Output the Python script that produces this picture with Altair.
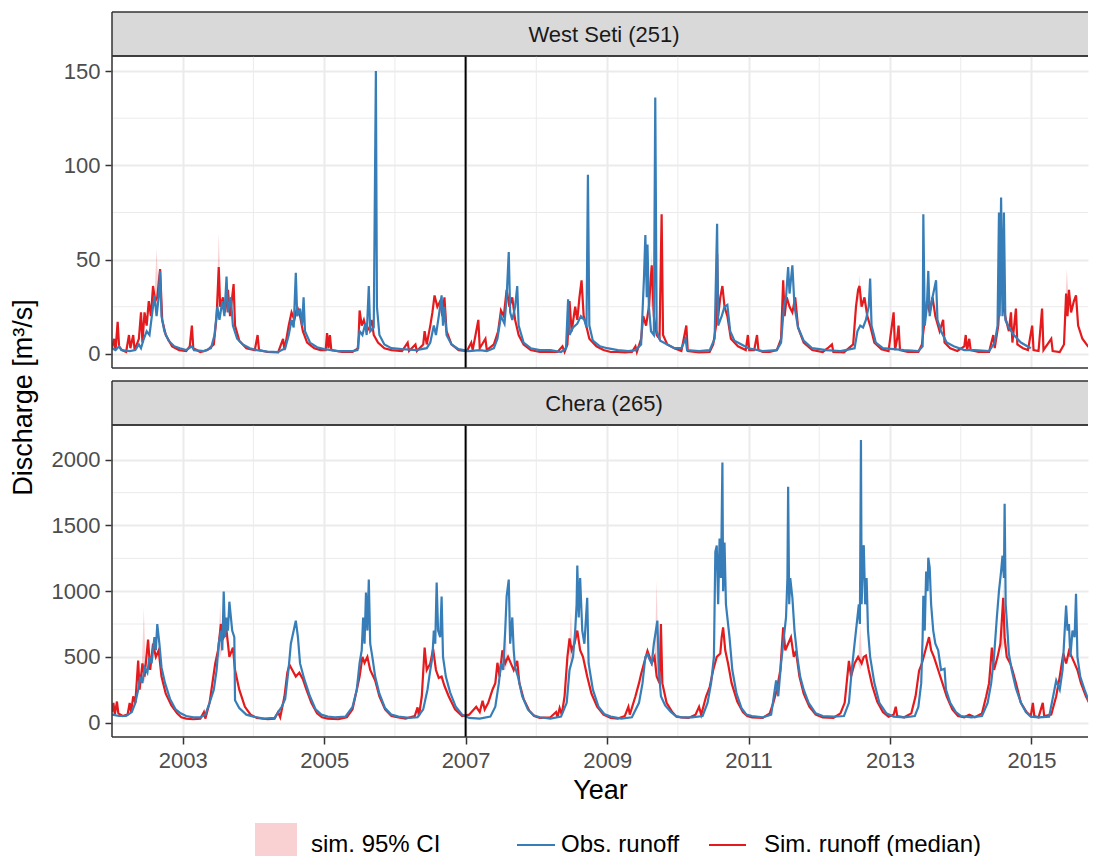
import altair as alt
import pandas as pd

# ---------------- data ----------------
panel_names = ["West Seti (251)", "Chera (265)"]
legend_labels = ["sim. 95% CI", "Obs. runoff", "Sim. runoff (median)"]
x_major_years = [2003, 2005, 2007, 2009, 2011, 2013, 2015]
x_minor_years = [2002, 2004, 2006, 2008, 2010, 2012, 2014]
split_year = [2007]

ws_y_major = [0, 50, 100, 150]
ws_y_minor = [25, 75, 125]
cr_y_major = [0, 500, 1000, 1500, 2000]
cr_y_minor = [250, 750, 1250, 1750]

# West Seti observed (decimal year, m3/s)
ws_obs = [
    (2002.00, 3), (2002.05, 2), (2002.10, 4), (2002.13, 2), (2002.25, 1.5), (2002.33, 2), (2002.38, 5),
    (2002.41, 3), (2002.45, 8), (2002.49, 12), (2002.53, 10), (2002.57, 22), (2002.60, 31), (2002.63, 20),
    (2002.66, 30), (2002.68, 44), (2002.70, 20), (2002.74, 12), (2002.80, 7), (2002.88, 4), (2002.96, 3),
    (2003.05, 2), (2003.13, 4), (2003.16, 2), (2003.30, 1.5), (2003.40, 3), (2003.45, 10), (2003.49, 25),
    (2003.52, 18), (2003.56, 28), (2003.59, 20), (2003.62, 41), (2003.64, 22), (2003.68, 30), (2003.71, 15),
    (2003.77, 8), (2003.85, 5), (2003.95, 3),
    (2004.05, 2), (2004.20, 1.2), (2004.35, 1), (2004.45, 3), (2004.50, 10), (2004.54, 18), (2004.57, 14),
    (2004.60, 43), (2004.62, 20), (2004.66, 24), (2004.69, 15), (2004.71, 30), (2004.73, 12), (2004.80, 6),
    (2004.90, 3.5),
    (2005.00, 2.5), (2005.20, 1.5), (2005.40, 1.5), (2005.47, 2), (2005.50, 12), (2005.54, 10), (2005.58, 16),
    (2005.60, 10), (2005.63, 36), (2005.65, 12), (2005.70, 14), (2005.73, 150), (2005.745, 25), (2005.78, 10),
    (2005.85, 5), (2005.95, 3),
    (2006.10, 2.5), (2006.30, 2), (2006.45, 3), (2006.50, 6), (2006.55, 15), (2006.58, 10), (2006.62, 20),
    (2006.66, 31), (2006.68, 15), (2006.70, 25), (2006.73, 10), (2006.80, 5), (2006.90, 2.5),
    (2007.05, 1.5), (2007.20, 2), (2007.30, 1.5), (2007.40, 3), (2007.45, 8), (2007.50, 20), (2007.55, 16),
    (2007.58, 30), (2007.61, 54), (2007.63, 22), (2007.66, 18), (2007.70, 25), (2007.73, 36), (2007.75, 15),
    (2007.82, 6), (2007.92, 3),
    (2008.05, 2), (2008.20, 2), (2008.35, 1), (2008.42, 3), (2008.45, 29), (2008.47, 10), (2008.52, 14),
    (2008.58, 16), (2008.63, 20), (2008.68, 18), (2008.71, 14), (2008.73, 95), (2008.75, 15), (2008.80, 7),
    (2008.90, 4),
    (2009.00, 3), (2009.15, 2), (2009.30, 1.5), (2009.40, 2), (2009.48, 5), (2009.52, 40), (2009.54, 63),
    (2009.56, 30), (2009.57, 58), (2009.59, 25), (2009.62, 12), (2009.66, 10), (2009.68, 136), (2009.70, 12),
    (2009.75, 7), (2009.85, 5), (2009.95, 3),
    (2010.05, 3), (2010.11, 8), (2010.13, 2), (2010.30, 1.5), (2010.45, 2), (2010.52, 8), (2010.555, 69),
    (2010.57, 15), (2010.62, 20), (2010.66, 25), (2010.70, 26), (2010.74, 12), (2010.80, 7), (2010.90, 5),
    (2011.00, 3), (2011.20, 1.5), (2011.40, 2), (2011.46, 6), (2011.50, 25), (2011.53, 30), (2011.56, 46),
    (2011.58, 32), (2011.62, 47), (2011.65, 25), (2011.70, 14), (2011.78, 7), (2011.90, 3),
    (2012.10, 2), (2012.30, 1.5), (2012.50, 3), (2012.54, 12), (2012.58, 15), (2012.62, 14), (2012.66, 18),
    (2012.70, 25), (2012.72, 40), (2012.74, 15), (2012.80, 6), (2012.90, 3),
    (2013.05, 2.5), (2013.20, 2), (2013.40, 1.5), (2013.46, 4), (2013.47, 74), (2013.49, 15), (2013.52, 25),
    (2013.54, 44), (2013.56, 20), (2013.60, 30), (2013.65, 39), (2013.67, 18), (2013.72, 12), (2013.80, 6),
    (2013.90, 4),
    (2014.05, 2), (2014.20, 2), (2014.40, 1.5), (2014.48, 6), (2014.52, 15), (2014.54, 75), (2014.55, 20),
    (2014.57, 83), (2014.59, 20), (2014.61, 75), (2014.63, 18), (2014.68, 14), (2014.75, 10), (2014.85, 6),
    (2014.99, 3),
]

# West Seti simulated median
ws_sim = [
    (2002.00, 3), (2002.03, 8), (2002.05, 2), (2002.08, 17), (2002.10, 4), (2002.14, 2), (2002.20, 1),
    (2002.24, 10), (2002.26, 3), (2002.30, 10), (2002.32, 2), (2002.38, 8), (2002.41, 22), (2002.43, 6),
    (2002.46, 22), (2002.49, 15), (2002.52, 28), (2002.55, 20), (2002.58, 36), (2002.61, 28), (2002.64, 30),
    (2002.68, 45), (2002.71, 18), (2002.76, 10), (2002.85, 4), (2002.95, 2),
    (2003.05, 1.5), (2003.10, 4), (2003.13, 15), (2003.15, 3), (2003.25, 1), (2003.35, 2), (2003.44, 5),
    (2003.48, 20), (2003.51, 46), (2003.53, 25), (2003.57, 30), (2003.60, 22), (2003.64, 34), (2003.67, 20),
    (2003.72, 37), (2003.74, 15), (2003.80, 7), (2003.90, 3),
    (2004.02, 2), (2004.06, 10), (2004.08, 2), (2004.20, 1), (2004.35, 0.8), (2004.42, 8), (2004.44, 2),
    (2004.50, 15), (2004.54, 22), (2004.58, 18), (2004.62, 25), (2004.66, 20), (2004.70, 12), (2004.76, 6),
    (2004.86, 3), (2004.95, 2),
    (2005.02, 2), (2005.04, 11), (2005.06, 3), (2005.08, 10), (2005.10, 2), (2005.25, 1), (2005.40, 1),
    (2005.48, 3), (2005.50, 23), (2005.53, 15), (2005.56, 18), (2005.60, 12), (2005.64, 14), (2005.67, 18),
    (2005.70, 10), (2005.76, 6), (2005.85, 3), (2005.95, 2),
    (2006.10, 1.5), (2006.18, 6), (2006.20, 1.5), (2006.29, 5), (2006.31, 1.5), (2006.40, 5), (2006.42, 12),
    (2006.45, 5), (2006.50, 15), (2006.53, 22), (2006.56, 31), (2006.60, 25), (2006.64, 28), (2006.67, 20),
    (2006.70, 30), (2006.73, 12), (2006.80, 5), (2006.90, 2),
    (2007.02, 1.5), (2007.08, 6), (2007.10, 2), (2007.18, 18), (2007.20, 3), (2007.28, 8), (2007.30, 2),
    (2007.40, 5), (2007.46, 12), (2007.50, 23), (2007.54, 20), (2007.58, 34), (2007.62, 25), (2007.66, 30),
    (2007.70, 18), (2007.75, 10), (2007.82, 5), (2007.92, 2),
    (2008.05, 1), (2008.20, 1), (2008.30, 1), (2008.37, 4), (2008.40, 1), (2008.44, 5), (2008.47, 28),
    (2008.50, 12), (2008.55, 25), (2008.58, 18), (2008.61, 30), (2008.64, 39), (2008.67, 20), (2008.70, 16),
    (2008.75, 8), (2008.85, 4), (2008.95, 2),
    (2009.05, 1), (2009.15, 1), (2009.25, 0.8), (2009.35, 1), (2009.40, 4), (2009.42, 1), (2009.48, 8),
    (2009.51, 20), (2009.55, 15), (2009.59, 25), (2009.63, 47), (2009.66, 20), (2009.70, 10), (2009.74, 8),
    (2009.77, 74), (2009.79, 10), (2009.85, 5), (2009.95, 3),
    (2010.05, 1.5), (2010.12, 15), (2010.14, 1.5), (2010.30, 0.8), (2010.45, 1), (2010.50, 5), (2010.54, 15),
    (2010.555, 53), (2010.57, 20), (2010.60, 30), (2010.63, 36), (2010.66, 25), (2010.70, 20), (2010.75, 8),
    (2010.85, 4), (2010.96, 2), (2010.99, 10),
    (2011.01, 2), (2011.08, 2), (2011.12, 10), (2011.14, 2), (2011.20, 1), (2011.30, 1), (2011.40, 2),
    (2011.46, 8), (2011.49, 39), (2011.51, 20), (2011.54, 30), (2011.58, 25), (2011.62, 22), (2011.66, 30),
    (2011.70, 14), (2011.78, 6), (2011.90, 2),
    (2012.05, 1), (2012.12, 3), (2012.18, 5), (2012.20, 1), (2012.35, 0.8), (2012.48, 5), (2012.52, 25),
    (2012.55, 34), (2012.57, 36), (2012.60, 25), (2012.64, 30), (2012.68, 20), (2012.72, 15), (2012.78, 6),
    (2012.88, 2.5), (2012.98, 1.5),
    (2013.05, 22), (2013.07, 2), (2013.10, 8), (2013.12, 15), (2013.14, 2), (2013.25, 1), (2013.40, 1),
    (2013.45, 5), (2013.48, 15), (2013.52, 28), (2013.56, 22), (2013.60, 30), (2013.64, 20), (2013.70, 12),
    (2013.75, 18), (2013.77, 6), (2013.85, 3), (2013.95, 1.5),
    (2014.05, 4), (2014.07, 10), (2014.09, 2), (2014.12, 8), (2014.14, 2), (2014.25, 1), (2014.40, 1),
    (2014.46, 10), (2014.48, 3), (2014.53, 15), (2014.57, 42), (2014.60, 25), (2014.64, 18), (2014.68, 12),
    (2014.71, 22), (2014.73, 6), (2014.78, 24), (2014.80, 5), (2014.88, 3), (2014.95, 2),
    (2015.01, 15), (2015.03, 2), (2015.10, 1.5), (2015.15, 24), (2015.17, 2), (2015.28, 8), (2015.30, 1.5),
    (2015.40, 1), (2015.46, 5), (2015.49, 32), (2015.51, 20), (2015.53, 34), (2015.56, 22), (2015.60, 28),
    (2015.63, 31), (2015.66, 15), (2015.72, 8), (2015.80, 4), (2015.90, 2), (2015.99, 1),
]

# West Seti simulated 95% CI (decimal year, lower, upper)
ws_ci = [
    (2002.60, 30, 30), (2002.63, 20, 56), (2002.66, 30, 30),
    (2003.48, 25, 25), (2003.51, 25, 64), (2003.54, 25, 25),
    (2009.60, 25, 25), (2009.63, 25, 55), (2009.66, 20, 20),
    (2012.55, 30, 30), (2012.57, 25, 42), (2012.60, 25, 25),
    (2015.47, 20, 20), (2015.50, 20, 45), (2015.53, 25, 25),
]

# Chera observed
cr_obs = [
    (2002.00, 60), (2002.10, 50), (2002.20, 50), (2002.28, 80), (2002.33, 150), (2002.37, 250), (2002.40, 350),
    (2002.43, 300), (2002.46, 420), (2002.50, 380), (2002.53, 500), (2002.56, 450), (2002.60, 650),
    (2002.62, 550), (2002.64, 750), (2002.67, 600), (2002.70, 420), (2002.75, 300), (2002.82, 180),
    (2002.90, 100), (2002.97, 70),
    (2003.05, 50), (2003.15, 40), (2003.25, 40), (2003.32, 60), (2003.38, 150), (2003.44, 250), (2003.48, 400),
    (2003.51, 600), (2003.54, 700), (2003.56, 550), (2003.58, 997), (2003.60, 650), (2003.62, 800),
    (2003.64, 700), (2003.66, 920), (2003.70, 700), (2003.73, 650), (2003.74, 170), (2003.80, 110),
    (2003.90, 60),
    (2004.00, 45), (2004.15, 30), (2004.30, 35), (2004.40, 120), (2004.45, 180), (2004.50, 420), (2004.53, 600),
    (2004.57, 700), (2004.60, 776), (2004.63, 650), (2004.66, 450), (2004.72, 330), (2004.80, 200),
    (2004.88, 100), (2004.96, 60),
    (2005.05, 45), (2005.15, 40), (2005.30, 45), (2005.40, 120), (2005.46, 250), (2005.50, 455), (2005.53, 550),
    (2005.55, 800), (2005.57, 600), (2005.59, 990), (2005.61, 700), (2005.63, 1088), (2005.65, 600),
    (2005.68, 500), (2005.72, 350), (2005.78, 220), (2005.86, 110), (2005.95, 60),
    (2006.05, 45), (2006.20, 35), (2006.32, 40), (2006.40, 100), (2006.46, 250), (2006.50, 400), (2006.53, 500),
    (2006.55, 700), (2006.57, 600), (2006.59, 1065), (2006.61, 700), (2006.64, 650), (2006.66, 960),
    (2006.68, 500), (2006.72, 350), (2006.78, 230), (2006.86, 120), (2006.95, 60),
    (2007.05, 35), (2007.20, 30), (2007.35, 45), (2007.42, 120), (2007.47, 300), (2007.50, 450), (2007.53, 400),
    (2007.56, 700), (2007.58, 960), (2007.61, 1088), (2007.63, 600), (2007.66, 800), (2007.68, 550),
    (2007.70, 420), (2007.74, 350), (2007.80, 200), (2007.88, 100), (2007.96, 55),
    (2008.05, 40), (2008.20, 30), (2008.35, 45), (2008.43, 150), (2008.47, 400), (2008.52, 500), (2008.55, 700),
    (2008.57, 900), (2008.58, 1195), (2008.60, 800), (2008.62, 1100), (2008.65, 700), (2008.68, 600),
    (2008.72, 950), (2008.74, 450), (2008.80, 250), (2008.88, 120), (2008.96, 65),
    (2009.05, 45), (2009.20, 30), (2009.35, 40), (2009.45, 150), (2009.50, 300), (2009.54, 500), (2009.57, 520),
    (2009.60, 480), (2009.63, 450), (2009.66, 600), (2009.71, 776), (2009.73, 400), (2009.76, 200),
    (2009.82, 130), (2009.90, 80), (2009.97, 50),
    (2010.05, 40), (2010.20, 40), (2010.35, 50), (2010.42, 150), (2010.47, 300), (2010.51, 500), (2010.53, 1300),
    (2010.55, 1347), (2010.57, 900), (2010.59, 1400), (2010.61, 1100), (2010.63, 1980), (2010.64, 1000),
    (2010.66, 1370), (2010.68, 900), (2010.70, 800), (2010.73, 650), (2010.77, 400), (2010.83, 220),
    (2010.90, 110), (2010.97, 60),
    (2011.05, 50), (2011.20, 40), (2011.32, 60), (2011.39, 320), (2011.42, 200), (2011.46, 450), (2011.50, 650),
    (2011.53, 800), (2011.55, 1100), (2011.56, 1795), (2011.575, 900), (2011.59, 1100), (2011.62, 950),
    (2011.65, 700), (2011.69, 500), (2011.73, 350), (2011.78, 250), (2011.85, 150), (2011.95, 70),
    (2012.05, 50), (2012.20, 45), (2012.35, 50), (2012.42, 150), (2012.46, 400), (2012.50, 600), (2012.53, 750),
    (2012.56, 900), (2012.575, 750), (2012.59, 2150), (2012.60, 900), (2012.62, 1300), (2012.63, 1350),
    (2012.65, 900), (2012.67, 1100), (2012.69, 700), (2012.72, 500), (2012.78, 300), (2012.85, 150),
    (2012.95, 70),
    (2013.05, 45), (2013.20, 40), (2013.35, 50), (2013.40, 120), (2013.44, 300), (2013.46, 650), (2013.47, 965),
    (2013.49, 700), (2013.51, 1150), (2013.53, 1000), (2013.54, 1255), (2013.56, 1180), (2013.58, 900),
    (2013.61, 700), (2013.64, 600), (2013.68, 550), (2013.72, 400), (2013.77, 410), (2013.79, 250),
    (2013.85, 150), (2013.93, 80),
    (2014.00, 50), (2014.15, 40), (2014.30, 50), (2014.38, 150), (2014.43, 300), (2014.47, 500), (2014.51, 800),
    (2014.54, 1000), (2014.57, 1150), (2014.59, 1270), (2014.61, 1100), (2014.62, 1665), (2014.635, 900),
    (2014.66, 700), (2014.68, 525), (2014.72, 400), (2014.78, 260), (2014.85, 150), (2014.92, 80),
    (2014.99, 45),
    (2015.10, 40), (2015.25, 45), (2015.35, 320), (2015.40, 250), (2015.44, 400), (2015.47, 700), (2015.49, 890),
    (2015.51, 700), (2015.53, 750), (2015.55, 500), (2015.58, 700), (2015.61, 650), (2015.63, 980),
    (2015.65, 500), (2015.69, 350), (2015.75, 250), (2015.82, 150), (2015.90, 90), (2015.99, 60),
]

# Chera simulated median
cr_sim = [
    (2002.00, 80), (2002.02, 150), (2002.04, 60), (2002.07, 160), (2002.09, 70), (2002.15, 50), (2002.22, 60),
    (2002.25, 150), (2002.27, 80), (2002.30, 200), (2002.33, 150), (2002.37, 472), (2002.39, 250),
    (2002.43, 450), (2002.46, 350), (2002.51, 632), (2002.54, 400), (2002.58, 600), (2002.62, 500),
    (2002.66, 550), (2002.70, 350), (2002.76, 220), (2002.84, 130), (2002.92, 70), (2002.98, 40),
    (2003.05, 30), (2003.15, 25), (2003.25, 30), (2003.30, 80), (2003.32, 30), (2003.38, 150), (2003.42, 300),
    (2003.46, 450), (2003.50, 550), (2003.54, 750), (2003.58, 650), (2003.62, 700), (2003.66, 500),
    (2003.71, 570), (2003.74, 400), (2003.80, 250), (2003.88, 120), (2003.96, 60),
    (2004.05, 35), (2004.20, 25), (2004.30, 30), (2004.35, 80), (2004.38, 40), (2004.44, 200), (2004.48, 380),
    (2004.51, 440), (2004.55, 400), (2004.60, 350), (2004.65, 380), (2004.70, 330), (2004.75, 250),
    (2004.82, 150), (2004.90, 70), (2004.97, 40),
    (2005.05, 30), (2005.20, 25), (2005.32, 40), (2005.40, 100), (2005.46, 250), (2005.50, 350), (2005.54, 500),
    (2005.57, 455), (2005.61, 500), (2005.65, 400), (2005.72, 320), (2005.78, 200), (2005.86, 100),
    (2005.95, 50),
    (2006.05, 40), (2006.15, 30), (2006.28, 50), (2006.32, 115), (2006.34, 50), (2006.38, 200), (2006.42, 570),
    (2006.45, 400), (2006.50, 450), (2006.54, 560), (2006.58, 400), (2006.62, 340), (2006.66, 350),
    (2006.70, 280), (2006.76, 200), (2006.85, 100), (2006.95, 50),
    (2007.05, 60), (2007.15, 120), (2007.20, 80), (2007.24, 165), (2007.27, 100), (2007.32, 150), (2007.38, 250),
    (2007.42, 300), (2007.45, 455), (2007.48, 350), (2007.52, 550), (2007.56, 450), (2007.60, 500),
    (2007.64, 450), (2007.68, 400), (2007.73, 470), (2007.76, 300), (2007.82, 180), (2007.90, 90),
    (2007.97, 50),
    (2008.05, 35), (2008.20, 40), (2008.28, 80), (2008.30, 40), (2008.33, 110), (2008.36, 60), (2008.40, 200),
    (2008.44, 500), (2008.47, 640), (2008.50, 550), (2008.54, 600), (2008.58, 700), (2008.62, 550),
    (2008.66, 500), (2008.72, 350), (2008.78, 220), (2008.86, 120), (2008.95, 60),
    (2009.05, 35), (2009.15, 30), (2009.25, 50), (2009.30, 120), (2009.32, 60), (2009.40, 200), (2009.45, 300),
    (2009.48, 370), (2009.52, 450), (2009.57, 545), (2009.60, 500), (2009.63, 450), (2009.67, 500),
    (2009.70, 350), (2009.74, 300), (2009.76, 750), (2009.78, 300), (2009.84, 150), (2009.92, 80),
    (2009.98, 45),
    (2010.05, 40), (2010.15, 35), (2010.25, 60), (2010.30, 120), (2010.33, 60), (2010.40, 200), (2010.45, 270),
    (2010.50, 400), (2010.55, 500), (2010.60, 525), (2010.62, 650), (2010.64, 725), (2010.67, 550),
    (2010.71, 450), (2010.76, 300), (2010.84, 160), (2010.92, 80), (2010.98, 50),
    (2011.05, 40), (2011.20, 35), (2011.30, 70), (2011.35, 150), (2011.40, 250), (2011.45, 400), (2011.49, 725),
    (2011.52, 550), (2011.56, 600), (2011.60, 650), (2011.64, 500), (2011.67, 545), (2011.72, 350),
    (2011.78, 220), (2011.86, 120), (2011.95, 60),
    (2012.05, 40), (2012.20, 35), (2012.30, 70), (2012.36, 150), (2012.42, 470), (2012.45, 350), (2012.50, 450),
    (2012.55, 500), (2012.60, 450), (2012.63, 500), (2012.66, 510), (2012.70, 400), (2012.75, 280),
    (2012.82, 160), (2012.90, 80), (2012.98, 45),
    (2013.05, 60), (2013.08, 120), (2013.10, 50), (2013.20, 40), (2013.30, 70), (2013.36, 200), (2013.41, 395),
    (2013.45, 450), (2013.50, 550), (2013.55, 650), (2013.58, 550), (2013.62, 500), (2013.68, 400),
    (2013.74, 300), (2013.80, 200), (2013.88, 100), (2013.96, 50),
    (2014.05, 40), (2014.12, 60), (2014.20, 40), (2014.30, 70), (2014.36, 200), (2014.40, 300), (2014.44, 570),
    (2014.47, 400), (2014.52, 500), (2014.56, 600), (2014.60, 950), (2014.62, 650), (2014.65, 500),
    (2014.70, 450), (2014.73, 400), (2014.78, 300), (2014.85, 150), (2014.93, 80), (2014.99, 50),
    (2015.02, 150), (2015.04, 50), (2015.10, 40), (2015.16, 150), (2015.18, 50), (2015.28, 60), (2015.35, 200),
    (2015.40, 350), (2015.45, 525), (2015.49, 450), (2015.53, 545), (2015.57, 500), (2015.61, 450),
    (2015.65, 400), (2015.70, 300), (2015.77, 200), (2015.86, 100), (2015.95, 55), (2015.99, 50),
]

# Chera simulated 95% CI
cr_ci = [
    (2002.42, 400, 400), (2002.45, 300, 870), (2002.48, 350, 350),
    (2003.50, 500, 500), (2003.53, 500, 900), (2003.56, 550, 550),
    (2007.53, 400, 400), (2007.56, 400, 800), (2007.59, 450, 450),
    (2008.46, 550, 550), (2008.49, 450, 850), (2008.52, 500, 500),
    (2009.67, 450, 450), (2009.70, 350, 1080), (2009.73, 300, 300),
    (2012.55, 450, 450), (2012.58, 400, 750), (2012.61, 450, 450),
    (2014.57, 500, 500), (2014.60, 600, 1100), (2014.63, 550, 550),
]

# ---------------- helpers ----------------
BLUE = "#377EB8"
RED = "#E41A1C"
GRID = "#EBEBEB"
BORDER = "#333333"
FONT = "Liberation Sans"
W = 976      # plot width (figure is cut at the right edge, as in the reference)
H = 312      # plot height
SH = 44      # strip height
GAP = 13     # gap between the two panels
LW = 2.2     # series line width
BW = 1.5     # border width
NOFRAME = alt.ViewBackground(stroke="transparent")


def to_date(t):
    y = int(t)
    return pd.Timestamp(year=y, month=1, day=1) + pd.Timedelta(days=(t - y) * 365.25)


def series_df(pairs):
    return pd.DataFrame({"date": [to_date(t) for t, _ in pairs], "q": [v for _, v in pairs]})


def ci_df(rows):
    return pd.DataFrame({"date": [to_date(t) for t, _, _ in rows],
                         "lo": [lo for _, lo, _ in rows],
                         "hi": [hi for _, _, hi in rows]})


def years_df(years):
    return pd.DataFrame({"date": [pd.Timestamp(year=y, month=1, day=1) for y in years]})


def frame(y0, y1):
    """Open-right frame (top, bottom, left edges) – the right edge is cut off in the reference."""
    one = pd.DataFrame({"k": [0]})
    return [
        alt.Chart(one).mark_rule(color=BORDER, strokeWidth=BW).encode(
            x=alt.value(0), x2=alt.value(W), y=alt.value(y0)),
        alt.Chart(one).mark_rule(color=BORDER, strokeWidth=BW).encode(
            x=alt.value(0), x2=alt.value(W), y=alt.value(y1)),
        alt.Chart(one).mark_rule(color=BORDER, strokeWidth=BW).encode(
            x=alt.value(0), y=alt.value(y0), y2=alt.value(y1)),
    ]


x_dom = [alt.DateTime(year=2002, month=1, date=1), alt.DateTime(year=2015, month=10, date=20)]
x_vals = [alt.DateTime(year=y, month=1, date=1) for y in x_major_years]


def strip(name, top_gap):
    df = pd.DataFrame({"label": [name]})
    bg = alt.Chart(df).mark_rect(fill="#D9D9D9").encode(
        x=alt.value(0), x2=alt.value(W), y=alt.value(top_gap), y2=alt.value(top_gap + SH))
    tx = alt.Chart(df).mark_text(fontSize=22, color="#1A1A1A", align="center", baseline="middle",
                                 font=FONT).encode(
        x=alt.value(W / 2 + 4), y=alt.value(top_gap + SH / 2 + 1), text="label:N")
    return alt.layer(bg, tx, *frame(top_gap, top_gap + SH)).properties(
        width=W, height=top_gap + SH, view=NOFRAME)


def panel(obs, sim, ci, ydom, ymaj, ymin, bottom):
    xs = alt.Scale(domain=x_dom)
    ys = alt.Scale(domain=ydom, nice=False, zero=False)
    if bottom:
        xaxis = alt.Axis(values=x_vals, format="%Y", grid=True, title="Year", labelPadding=6,
                         titlePadding=6, labelFlush=False)
        yaxis = alt.Axis(values=ymaj, format="d", grid=True, title="Discharge [m³/s]", titleY=-28,
                         titlePadding=14, labelPadding=5)
    else:
        xaxis = alt.Axis(values=x_vals, grid=True, labels=False, ticks=False, domain=False, title=None)
        yaxis = alt.Axis(values=ymaj, format="d", grid=True, title=None, labelPadding=5)

    X = alt.X("date:T", scale=xs, axis=xaxis)
    Y = alt.Y("q:Q", scale=ys, axis=yaxis)

    minor_x = alt.Chart(years_df(x_minor_years)).mark_rule(color=GRID, strokeWidth=1).encode(x=X)
    minor_y = alt.Chart(pd.DataFrame({"q": ymin})).mark_rule(color=GRID, strokeWidth=1).encode(y=Y)
    band = alt.Chart(ci_df(ci)).mark_area(color=RED, opacity=0.2, clip=True).encode(
        x=X, y=alt.Y("lo:Q", scale=ys, axis=yaxis), y2="hi:Q")
    sim_line = alt.Chart(series_df(sim)).mark_line(color=RED, strokeWidth=LW, clip=True).encode(x=X, y=Y)
    obs_line = alt.Chart(series_df(obs)).mark_line(color=BLUE, strokeWidth=LW, clip=True).encode(x=X, y=Y)
    split = alt.Chart(years_df(split_year)).mark_rule(color="black", strokeWidth=2).encode(x=X)

    layers = [minor_x, minor_y, band, sim_line, obs_line, split] + frame(0, H)

    if bottom:
        one = pd.DataFrame({"k": [0]})
        ly = 420
        layers += [
            alt.Chart(one).mark_rect(color=RED, opacity=0.2).encode(
                x=alt.value(143), x2=alt.value(185), y=alt.value(398), y2=alt.value(433)),
            alt.Chart(one).mark_text(fontSize=24, align="left", baseline="middle", color="black",
                                     font=FONT).encode(
                x=alt.value(199), y=alt.value(ly), text=alt.value(legend_labels[0])),
            alt.Chart(one).mark_rule(color=BLUE, strokeWidth=LW).encode(
                x=alt.value(405), x2=alt.value(443), y=alt.value(ly)),
            alt.Chart(one).mark_text(fontSize=24, align="left", baseline="middle", color="black",
                                     font=FONT).encode(
                x=alt.value(449), y=alt.value(ly), text=alt.value(legend_labels[1])),
            alt.Chart(one).mark_rule(color=RED, strokeWidth=LW).encode(
                x=alt.value(597), x2=alt.value(634), y=alt.value(ly)),
            alt.Chart(one).mark_text(fontSize=24, align="left", baseline="middle", color="black",
                                     font=FONT).encode(
                x=alt.value(652), y=alt.value(ly), text=alt.value(legend_labels[2])),
        ]
    return alt.layer(*layers).properties(width=W, height=H, view=NOFRAME)


chart = alt.vconcat(
    strip(panel_names[0], 0),
    panel(ws_obs, ws_sim, ws_ci, [-7.5, 158], ws_y_major, ws_y_minor, False),
    strip(panel_names[1], GAP),
    panel(cr_obs, cr_sim, cr_ci, [-110, 2265], cr_y_major, cr_y_minor, True),
    spacing=0, bounds="flush"
).properties(
    padding={"left": 0, "top": 2, "right": 0, "bottom": 0}
).configure(font=FONT).configure_axis(
    labelColor="#4D4D4D", labelFontSize=22, labelFont=FONT,
    tickColor=BORDER, tickWidth=1.5, tickSize=7, domain=False,
    gridColor=GRID, gridWidth=2,
    titleColor="black", titleFontSize=27, titleFontWeight="normal", titleFont=FONT
)

chart.save("out.html", embed_options={"renderer": "svg", "actions": False})
